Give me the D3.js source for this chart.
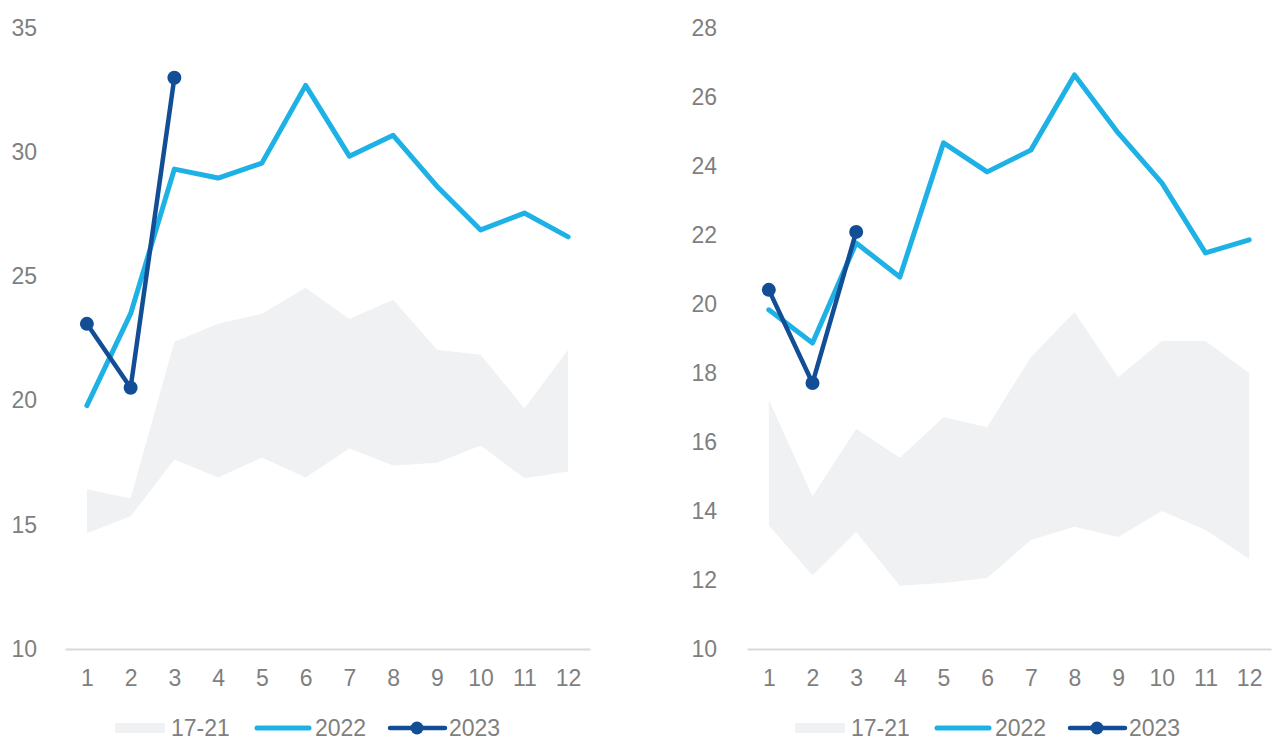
<!DOCTYPE html>
<html>
<head>
<meta charset="utf-8">
<script src="https://cdn.jsdelivr.net/npm/d3@7"></script>
<style>
  html, body { margin: 0; padding: 0; background: #ffffff; }
  svg { display: block; }
  text { font-family: "Liberation Sans", Arial, sans-serif; fill: #7f7f7f; }
</style>
</head>
<body>
<svg id="chart" width="1278" height="740"></svg>
<script>
// ---- data ----
const months = [1, 2, 3, 4, 5, 6, 7, 8, 9, 10, 11, 12];

const leftBandLow  = [14.66, 15.34, 17.63, 16.9, 17.71, 16.9, 18.07, 17.39, 17.5, 18.19, 16.87, 17.15];
const leftBandHigh = [16.43, 16.06, 22.37, 23.09, 23.5, 24.54, 23.29, 24.06, 22.05, 21.85, 19.68, 22.05];
const left2022 = [19.8, 23.5, 29.32, 28.96, 29.56, 32.69, 29.84, 30.68, 28.63, 26.87, 27.55, 26.59];
const left2023 = [23.09, 20.52, 33.0];
const leftTicks = [10, 15, 20, 25, 30, 35];

const rightBandLow  = [13.59, 12.14, 13.39, 11.83, 11.91, 12.06, 13.16, 13.54, 13.25, 14.0, 13.45, 12.61];
const rightBandHigh = [17.22, 14.43, 16.38, 15.54, 16.72, 16.43, 18.46, 19.77, 17.88, 18.93, 18.93, 18.0];
const right2022 = [19.83, 18.87, 21.77, 20.78, 24.67, 23.83, 24.46, 26.64, 24.96, 23.51, 21.48, 21.86];
const right2023 = [20.41, 17.71, 22.09];
const rightTicks = [10, 12, 14, 16, 18, 20, 22, 24, 26, 28];

const legendLabels = ["17-21", "2022", "2023"];

// ---- styles ----
const C_BAND = "#f0f1f3";
const C_2022 = "#1db1e6";
const C_2023 = "#124e96";
const C_AXIS = "#d9d9d9";
const FONT = 23;

const svg = d3.select("#chart");

function panel(cfg) {
  const g = svg.append("g");
  const x = d3.scalePoint().domain(months).range([cfg.x0, cfg.x1]).padding(0.5);
  const y = d3.scaleLinear().domain(cfg.yDomain).range([649, 28]);

  // band
  const area = d3.area()
    .x((d, i) => x(months[i]))
    .y0((d, i) => y(cfg.low[i]))
    .y1((d, i) => y(cfg.high[i]));
  g.append("path").datum(cfg.low).attr("d", area).attr("fill", C_BAND);

  // x axis
  const xa = g.append("g").attr("transform", `translate(0,${y(cfg.yDomain[0])})`)
    .call(d3.axisBottom(x).tickSize(0).tickSizeOuter(0).tickPadding(21));
  xa.select(".domain").attr("stroke", C_AXIS).attr("stroke-width", 2);
  xa.selectAll("text").attr("font-size", FONT).attr("fill", "#7f7f7f")
    .style("font-family", '"Liberation Sans", Arial, sans-serif');

  // y axis (labels only)
  const ya = g.append("g").attr("transform", `translate(${cfg.x0},0)`)
    .call(d3.axisLeft(y).tickValues(cfg.ticks).tickSize(0).tickPadding(cfg.yPad).tickFormat(d3.format("d")));
  ya.select(".domain").remove();
  ya.selectAll("text").attr("font-size", FONT).attr("fill", "#7f7f7f")
    .style("font-family", '"Liberation Sans", Arial, sans-serif');

  const line = d3.line().x((d, i) => x(months[i])).y(d => y(d));

  g.append("path").datum(cfg.s2022).attr("d", line)
    .attr("fill", "none").attr("stroke", C_2022).attr("stroke-width", 5)
    .attr("stroke-linecap", "round").attr("stroke-linejoin", "round");

  g.append("path").datum(cfg.s2023).attr("d", line)
    .attr("fill", "none").attr("stroke", C_2023).attr("stroke-width", 4.5)
    .attr("stroke-linecap", "round").attr("stroke-linejoin", "round");

  g.selectAll("circle.m").data(cfg.s2023).join("circle")
    .attr("class", "m")
    .attr("cx", (d, i) => x(months[i])).attr("cy", d => y(d))
    .attr("r", 7).attr("fill", C_2023);

  // legend
  const lg = g.append("g").attr("transform", `translate(${cfg.lx},0)`);
  const ly = 728;
  lg.append("rect").attr("x", 115).attr("y", ly - 5).attr("width", 50).attr("height", 10).attr("fill", C_BAND);
  lg.append("text").attr("x", 171).attr("y", ly).attr("dy", "0.35em").attr("font-size", FONT).text(legendLabels[0]);
  lg.append("line").attr("x1", 257).attr("x2", 309).attr("y1", ly).attr("y2", ly)
    .attr("stroke", C_2022).attr("stroke-width", 5).attr("stroke-linecap", "round");
  lg.append("text").attr("x", 315).attr("y", ly).attr("dy", "0.35em").attr("font-size", FONT).text(legendLabels[1]);
  lg.append("line").attr("x1", 390).attr("x2", 445).attr("y1", ly).attr("y2", ly)
    .attr("stroke", C_2023).attr("stroke-width", 4.5).attr("stroke-linecap", "round");
  lg.append("circle").attr("cx", 417).attr("cy", ly).attr("r", 6.5).attr("fill", C_2023);
  lg.append("text").attr("x", 449).attr("y", ly).attr("dy", "0.35em").attr("font-size", FONT).text(legendLabels[2]);
}

panel({ x0: 65, x1: 590, yDomain: [10, 35], ticks: leftTicks, yPad: 28,
        low: leftBandLow, high: leftBandHigh, s2022: left2022, s2023: left2023, lx: 0 });
panel({ x0: 747, x1: 1271, yDomain: [10, 28], ticks: rightTicks, yPad: 30,
        low: rightBandLow, high: rightBandHigh, s2022: right2022, s2023: right2023, lx: 680 });
</script>
</body>
</html>
